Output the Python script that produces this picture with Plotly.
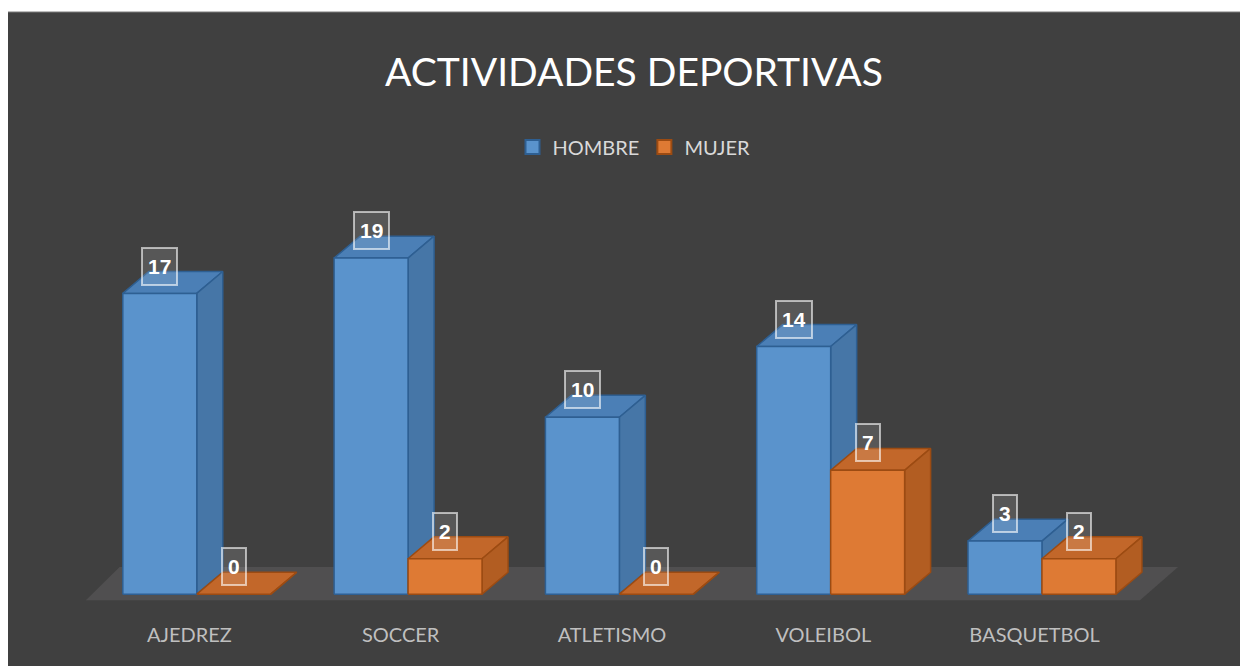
import plotly.graph_objects as go

# data
categorias = ["AJEDREZ", "SOCCER", "ATLETISMO", "VOLEIBOL", "BASQUETBOL"]
hombre = [17, 19, 10, 14, 3]
mujer = [0, 2, 0, 7, 2]

W, H = 1248, 666
OFF = 8   # page body margin
L, R, T, B = 70 - OFF, 37 + OFF, 205 - OFF, 63 + OFF
FONT = "Lato, Liberation Sans, Arial"

BW = 0.35      # bar width (category units)
DX = 0.123     # depth in x
DY = 1.24      # depth in y (value units)


def px_x(p):
    return (p - OFF - L) / (W - L - R)


def px_y(p):
    return (H - B - (p - OFF)) / (H - T - B)


def faces(x0, v):
    x1 = x0 + BW
    front = [(x0, 0), (x1, 0), (x1, v), (x0, v), (x0, 0)]
    side = [(x1, 0), (x1 + DX, DY), (x1 + DX, v + DY), (x1, v), (x1, 0)]
    top = [(x0, v), (x1, v), (x1 + DX, v + DY), (x0 + DX, v + DY), (x0, v)]
    return front, side, top


def poly(pts, fill, line):
    return go.Scatter(x=[p[0] for p in pts], y=[p[1] for p in pts], mode="lines",
                      fill="toself", fillcolor=fill, line=dict(color=line, width=1.5),
                      hoverinfo="skip", showlegend=False)


series = [
    ("HOMBRE", hombre, -BW, dict(front="#5a93cc", side="#4676a7", top="#4b7fb6", edge="#2e5f92")),
    ("MUJER", mujer, 0.0, dict(front="#de7a34", side="#b25d22", top="#c2672a", edge="#9c4b12")),
]

fig = go.Figure()

xpos = list(range(len(categorias)))

# floor
fl = [(xpos[0] - 0.525, -0.34), (xpos[-1] + 0.464, -0.34),
      (xpos[-1] + 0.644, 1.53), (xpos[0] - 0.365, 1.53), (xpos[0] - 0.525, -0.34)]
fig.add_trace(go.Scatter(x=[p[0] for p in fl], y=[p[1] for p in fl], mode="lines",
                         fill="toself", fillcolor="#504f50", line=dict(width=0),
                         hoverinfo="skip", showlegend=False))

annotations = []
for i, xc in enumerate(xpos):
    for name, vals, off, c in series:
        v = vals[i]
        front, side, top = faces(xc + off, v)
        fig.add_trace(poly(top, c["top"], c["edge"]))
        fig.add_trace(poly(side, c["side"], c["edge"]))
        if v > 0:
            fig.add_trace(poly(front, c["front"], c["edge"]))
        annotations.append(dict(
            x=xc + off + BW / 2, y=v + 1.55, xref="x", yref="y", showarrow=False,
            text="<b>%d</b>" % v, font=dict(family="Liberation Sans, Arial", size=21, color="white"),
            bgcolor="rgba(255,255,255,0.12)", bordercolor="rgba(255,255,255,0.6)",
            borderwidth=2, borderpad=5, height=25))

# legend entries
for name, vals, off, c in series:
    fig.add_trace(go.Scatter(x=[None], y=[None], mode="markers", name=name,
                             marker=dict(symbol="square", size=14, color=c["front"],
                                         line=dict(color=c["edge"], width=2))))

fig.update_layout(
    width=W, height=H,
    paper_bgcolor="white", plot_bgcolor="rgba(0,0,0,0)",
    margin=dict(l=L, r=R, t=T, b=B),
    title=dict(text="ACTIVIDADES DEPORTIVAS", x=(634 - OFF) / W, xanchor="center",
               y=1 - (72 - OFF) / H, yanchor="middle",
               font=dict(family=FONT, size=39, color="white")),
    legend=dict(orientation="h", x=px_x(634), xanchor="center", y=px_y(147), yanchor="middle",
                font=dict(family=FONT, size=20, color="#d9d9d9"), itemwidth=30,
                bgcolor="rgba(0,0,0,0)"),
    shapes=[dict(type="rect", xref="paper", yref="paper", layer="below",
                 x0=px_x(7), x1=px_x(W + OFF + 2), y0=px_y(H + OFF + 2), y1=px_y(12),
                 fillcolor="#404040", line=dict(color="#7a7a7a", width=1))],
    annotations=annotations,
    showlegend=True,
)
fig.update_xaxes(range=[-0.6, 4.8], tickvals=[k - 0.035 for k in xpos], ticktext=categorias,
                 showgrid=False, zeroline=False, showline=False,
                 ticks="outside", ticklen=14, tickcolor="rgba(0,0,0,0)",
                 tickfont=dict(family=FONT, size=20, color="#bfbfbf"), fixedrange=True)
fig.update_yaxes(range=[-0.5, 22], visible=False, showgrid=False, zeroline=False, fixedrange=True)

fig.write_html("out.html")
